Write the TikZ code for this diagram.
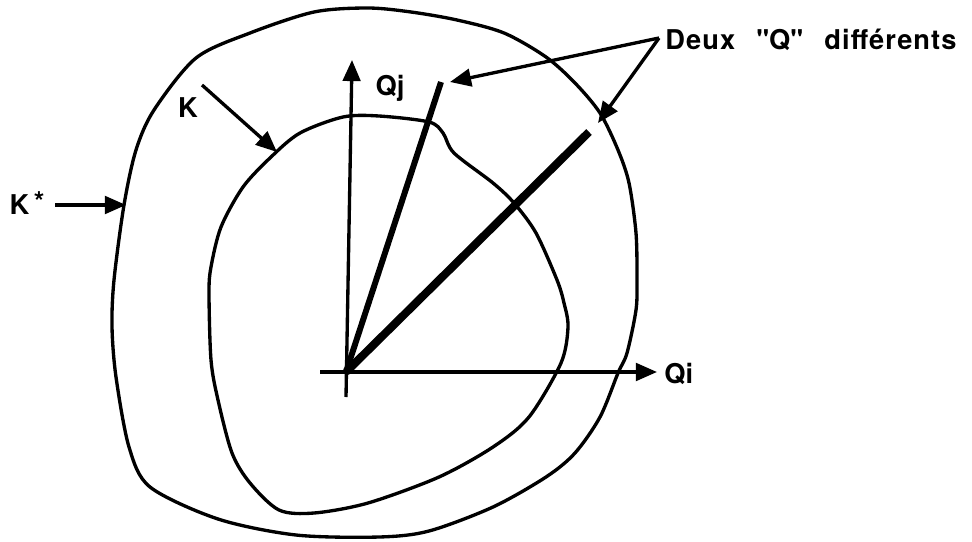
\documentclass[tikz,border=0pt]{standalone}
\usepackage{fontspec}
\setmainfont{TeX Gyre Heros}
\usetikzlibrary{arrows.meta}

\begin{document}
\begin{tikzpicture}[x=0.02cm,y=-0.02cm,>={Triangle[length=12pt,width=10pt]},
    contour/.style={line width=1.9pt,line join=round},
    pointer/.style={->,line width=1.9pt},
    tag/.style={font=\bfseries\fontsize{15.5}{17}\selectfont,inner sep=0pt}]
  \useasboundingbox (0,0) rectangle (972,541);
  \coordinate (O) at (346,372);
  % K*
  \draw[contour] plot[smooth cycle,tension=0.5] coordinates {
    (368,8) (411,12) (457,20) (504,33) (546,57) (575,83) (600,113)
    (618,150) (629,183) (636,233) (637,280) (636,310) (627,353)
    (618,373) (600,417) (575,453) (546,477) (493,507) (429,531)
    (379,537) (296,535) (218,519) (150,487) (129,447) (116,377)
    (112,327) (114,280) (124,205) (136,150) (154,110) (196,58)
    (250,33) (314,12)};
  % K
  \draw[contour] plot[smooth cycle,tension=0.5] coordinates {
    (343,117) (379,116) (429,122) (443,133) (454,153) (493,183)
    (514,203) (536,233) (557,280) (564,303) (568,327) (561,363)
    (529,417) (493,447) (439,477) (368,503) (314,513) (279,510)
    (250,483) (232,453) (218,400) (211,360) (209,293) (211,267)
    (221,227) (243,187) (271,157) (300,133)};
  % axes
  \coordinate (QiEnd) at (657,372);
  \coordinate (QjEnd) at (352,60);
  \draw[pointer] (320,372) -- (QiEnd);
  \draw[pointer] (346,397) -- (QjEnd);
  \node[tag,anchor=west] (Qi) at (664,374) {Qi};
  \node[tag] (Qj) at (390,88) {Qj};
  % two vectors Q
  \coordinate (Qa) at (441,82);
  \coordinate (Qb) at (589,132);
  \draw[line width=3.4pt] (O) -- (Qa);
  \draw[line width=4.6pt] (O) -- (Qb);
  \node[tag,anchor=west] (Deux) at (665,40)
    {\addfontfeature{LetterSpace=4}Deux\hspace{12pt}\textquotedbl Q\textquotedbl\hspace{12pt}différents};
  \coordinate (DeuxFoot) at (659,38);
  \draw[pointer] (DeuxFoot) -- (450,82);
  \draw[pointer] (DeuxFoot) -- (598,123);
  % labels of the contours
  \node[tag] (Kstar) at (27,203) {K\,\raisebox{2pt}{*}};
  \draw[pointer] (55,205) -- (126,205);
  \node[tag] (K) at (188,108) {K};
  \draw[pointer] (202,85) -- (277,152);
\end{tikzpicture}
\end{document}
